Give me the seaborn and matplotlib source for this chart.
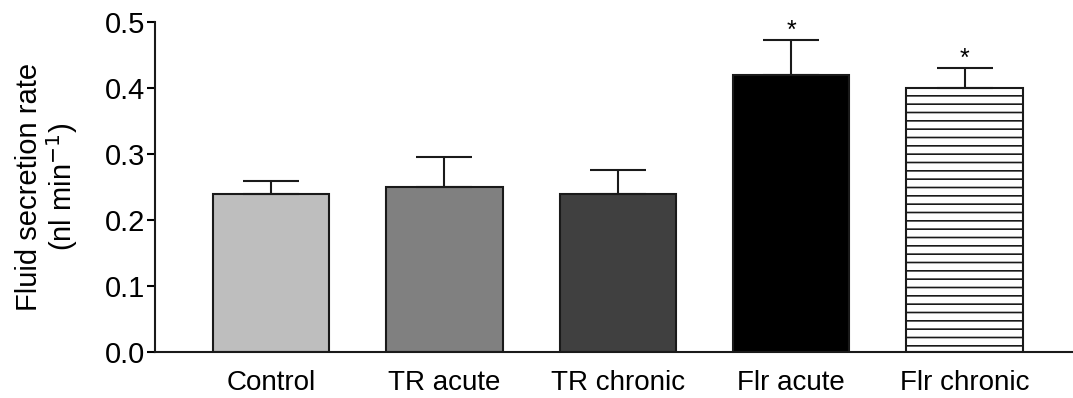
import matplotlib
matplotlib.use("Agg")
import matplotlib.pyplot as plt
import seaborn as sns
import pandas as pd
import numpy as np

categories = ["Control", "TR acute", "TR chronic", "Flr acute", "Flr chronic"]
means = [0.24, 0.25, 0.24, 0.42, 0.40]
sem = [0.019, 0.045, 0.035, 0.053, 0.030]
significant = [False, False, False, True, True]
colors = ["#bebebe", "#808080", "#404040", "#000000", "#ffffff"]
hatches = ["", "", "", "", "--"]
yticks = [0.0, 0.1, 0.2, 0.3, 0.4, 0.5]

sns.set_style("ticks")
plt.rcParams["font.family"] = ["Liberation Sans", "DejaVu Sans"]
plt.rcParams["hatch.linewidth"] = 1.2
plt.rcParams["text.color"] = "black"
plt.rcParams["axes.labelcolor"] = "black"
plt.rcParams["xtick.color"] = "black"
plt.rcParams["ytick.color"] = "black"

df = pd.DataFrame({"group": categories, "rate": means})

fig = plt.figure(figsize=(10.73, 3.98), dpi=100)
ax = fig.add_axes([155 / 1073, (398 - 352) / 398, (1072 - 155) / 1073, (352 - 22) / 398])

sns.barplot(data=df, x="group", y="rate", hue="group", palette=colors,
            order=categories, hue_order=categories, legend=False,
            errorbar=None, width=0.67, edgecolor="#1a1a1a", linewidth=1.5,
            saturation=1, ax=ax)

for patch, h in zip(ax.patches, hatches):
    if h:
        patch.set_hatch(h)

x = np.arange(len(categories))
ax.errorbar(x, means, yerr=[np.zeros(len(means)), sem], fmt="none",
            ecolor="#1a1a1a", elinewidth=1.5, capsize=20.5, capthick=1.5,
            clip_on=False, zorder=3)

for xi, m, e, s in zip(x, means, sem, significant):
    if s:
        ax.text(xi, m + e - 0.004, "*", ha="center", va="bottom",
                fontsize=18, color="black", clip_on=False)

ax.set_ylim(0, 0.5)
ax.set_xlim(-0.67, 4.62)
ax.set_yticks(yticks)
ax.set_yticklabels([f"{t:.1f}" for t in yticks])
ax.set_xlabel("")
ax.set_ylabel("Fluid secretion rate\n(nl min$^{-1}$)", fontsize=21, labelpad=18,
              linespacing=1.05)
ax.tick_params(axis="y", labelsize=21, length=6, width=1.5, direction="out", pad=1)
ax.tick_params(axis="x", labelsize=20, length=0, pad=13)
for sp in ["top", "right"]:
    ax.spines[sp].set_visible(False)
for sp in ["left", "bottom"]:
    ax.spines[sp].set_linewidth(1.5)
    ax.spines[sp].set_color("#1a1a1a")

fig.savefig("out.png", dpi=100)
